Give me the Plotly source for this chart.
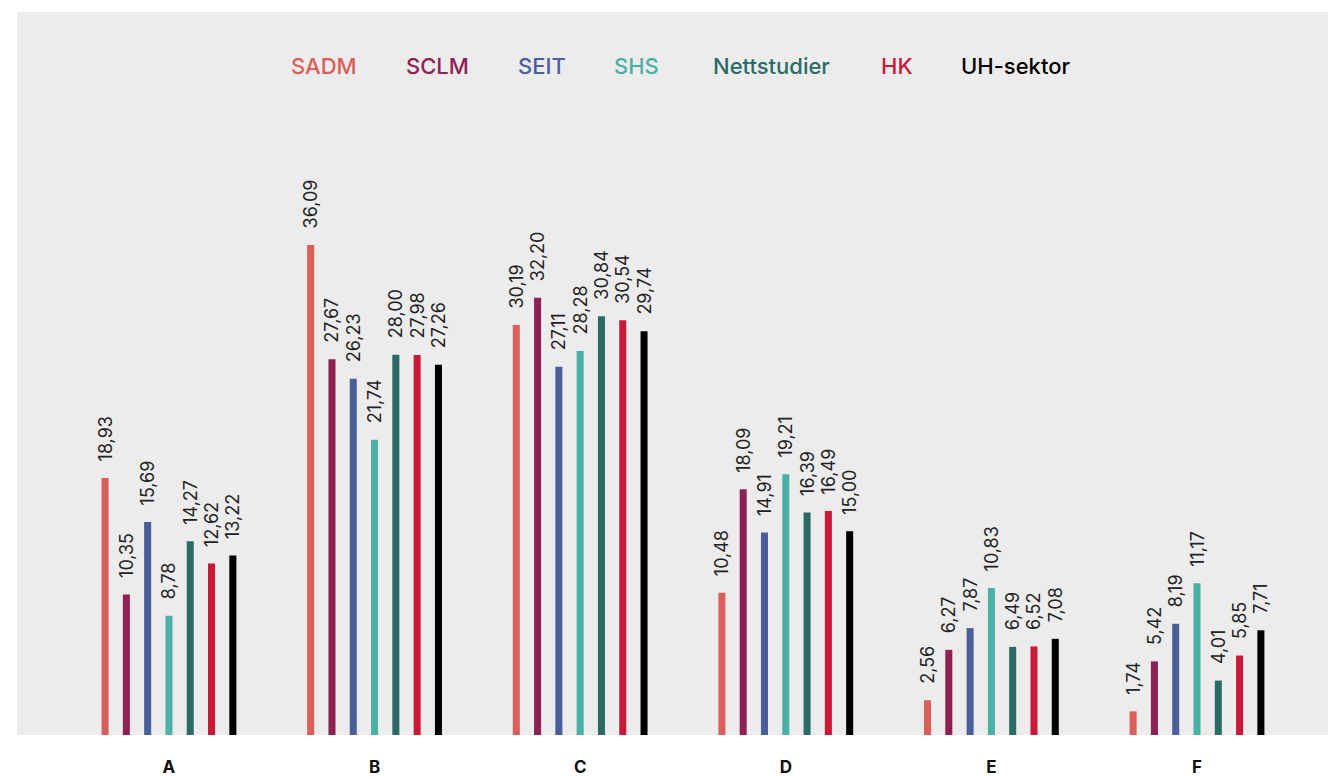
import plotly.graph_objects as go

categories = ["A", "B", "C", "D", "E", "F"]
series_names = ["SADM", "SCLM", "SEIT", "SHS", "Nettstudier", "HK", "UH-sektor"]
colors = ["#d95f5a", "#8e2153", "#4a5e9a", "#4bb0a6", "#2a6b66", "#c8193a", "#000000"]

sadm = [18.93, 36.09, 30.19, 10.48, 2.56, 1.74]
sclm = [10.35, 27.67, 32.20, 18.09, 6.27, 5.42]
seit = [15.69, 26.23, 27.11, 14.91, 7.87, 8.19]
shs = [8.78, 21.74, 28.28, 19.21, 10.83, 11.17]
nett = [14.27, 28.00, 30.84, 16.39, 6.49, 4.01]
hk = [12.62, 27.98, 30.54, 16.49, 6.52, 5.85]
uh = [13.22, 27.26, 29.74, 15.00, 7.08, 7.71]
series_values = [sadm, sclm, seit, shs, nett, hk, uh]

legend_x = [0.233, 0.319, 0.398, 0.470, 0.572, 0.667, 0.757]

fig = go.Figure()
for name, vals, col in zip(series_names, series_values, colors):
    fig.add_trace(go.Bar(
        x=categories, y=vals, name=name,
        marker=dict(color=col, line=dict(width=0)),
        texttemplate="\u2002\u2005%{y:.2f}",
        textposition="outside",
        textangle=-90,
        constraintext="none",
        cliponaxis=False,
        textfont=dict(family="Inter", size=18, color="#222222"),
        showlegend=False,
    ))

for name, col, lx in zip(series_names, colors, legend_x):
    fig.add_annotation(
        x=lx, y=1 - (66 - 12) / 723, xref="paper", yref="paper", text=name,
        showarrow=False, xanchor="center", yanchor="middle",
        font=dict(family="Inter", size=22, color=col, weight=500),
    )

fig.update_layout(
    width=1328, height=769,
    margin=dict(l=9, r=0, t=4, b=42),
    paper_bgcolor="white",
    plot_bgcolor="#ececec",
    barmode="group",
    bargap=0.275,
    bargroupgap=0.67,
    separators=", ",
    showlegend=False,
    xaxis=dict(
        range=[-0.739, 5.676],
        showgrid=False, zeroline=False, showline=False,
        ticks="", ticklabelstandoff=20,
        tickfont=dict(family="Inter", size=17, color="#111111", weight="bold"),
    ),
    yaxis=dict(
        range=[0, 53.24], visible=False, showgrid=False, zeroline=False,
    ),
)

fig.write_html("out.html")
